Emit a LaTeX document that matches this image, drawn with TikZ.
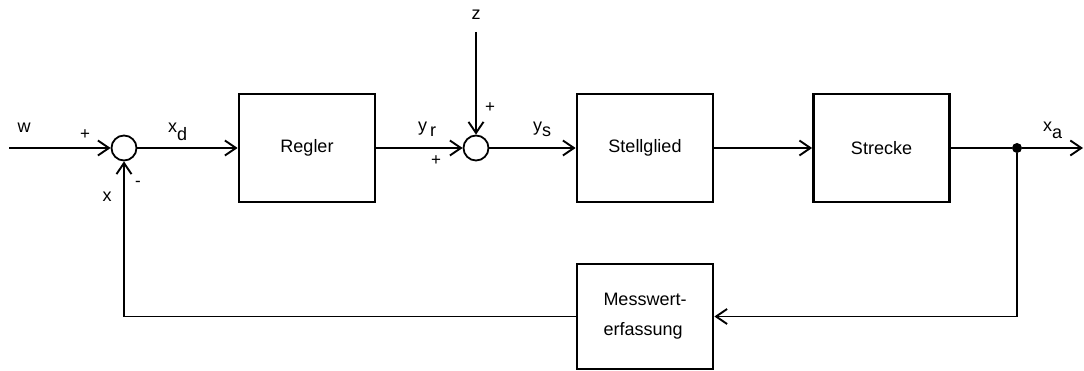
\documentclass[tikz,border=0pt]{standalone}
\usepackage{fontspec}
\setmainfont{Liberation Sans}
\usetikzlibrary{arrows.meta}
\tikzset{
  blk/.style={draw,line width=2.8pt,rectangle,minimum width=136pt,minimum height=108pt,inner sep=0pt,font=\fontsize{18}{30}\selectfont},
  sumc/.style={draw,line width=1.8pt,circle,minimum size=25pt,inner sep=0pt},
  conn/.style={line width=1.9pt},
  arr/.style={conn,-{Straight Barb[length=11pt,width=15pt]}},
  lbl/.style={inner sep=0pt,font=\fontsize{18}{20}\selectfont},
  sgn/.style={inner sep=0pt,font=\fontsize{17}{18}\selectfont},
}
\begin{document}
\begin{tikzpicture}[x=1pt,y=-1pt]
\useasboundingbox (0,0) rectangle (1084,371);
\node[sumc] (s1) at (124,148) {};
\node[blk] (regler) at (307,148) {Regler};
\node[sumc] (s2) at (476,148) {};
\node[blk] (stell) at (645,148) {Stellglied};
\node[blk] (strecke) at (881.5,148) {Strecke};
\node[blk,minimum height=105pt,align=left] (mess) at (645,316.5) {Messwert-\\erfassung};
\node[circle,fill,inner sep=0pt,minimum size=10pt] (dot) at (1017,148) {};
\coordinate (win) at (9,148);
\coordinate (zin) at (476,32);
\coordinate (xout) at (1083,148);
\draw[arr] (win) -- (s1);
\draw[arr] (s1) -- (regler);
\draw[arr] (regler) -- (s2);
\draw[arr] (zin) -- (s2);
\draw[arr] (s2) -- (stell);
\draw[arr] (stell) -- (strecke);
\draw[conn] (strecke) -- (dot);
\draw[arr] (dot) -- (xout);
\draw[arr] (dot) |- (mess);
\draw[arr] (mess) -| (s1);
\node[lbl] (lw) at (24,128) {w};
\node[sgn] (p1) at (85,135) {+};
\node[sgn] (m1) at (138,184) {-};
\node[lbl] (lx) at (107,197) {x};
\node[lbl,anchor=base west] (lxd) at (168,133) {x\raisebox{-8pt}{d}};
\node[lbl,anchor=base west] (lyr) at (418,132) {y\,\raisebox{-5pt}{r}};
\node[sgn] (p2) at (436,161) {+};
\node[sgn] (p3) at (490,108) {+};
\node[lbl] (lz) at (476,15) {z};
\node[lbl,anchor=base west] (lys) at (533,132) {y\raisebox{-5pt}{s}};
\node[lbl,anchor=base west] (lxa) at (1043,132) {x\raisebox{-7pt}{a}};
\end{tikzpicture}
\end{document}
